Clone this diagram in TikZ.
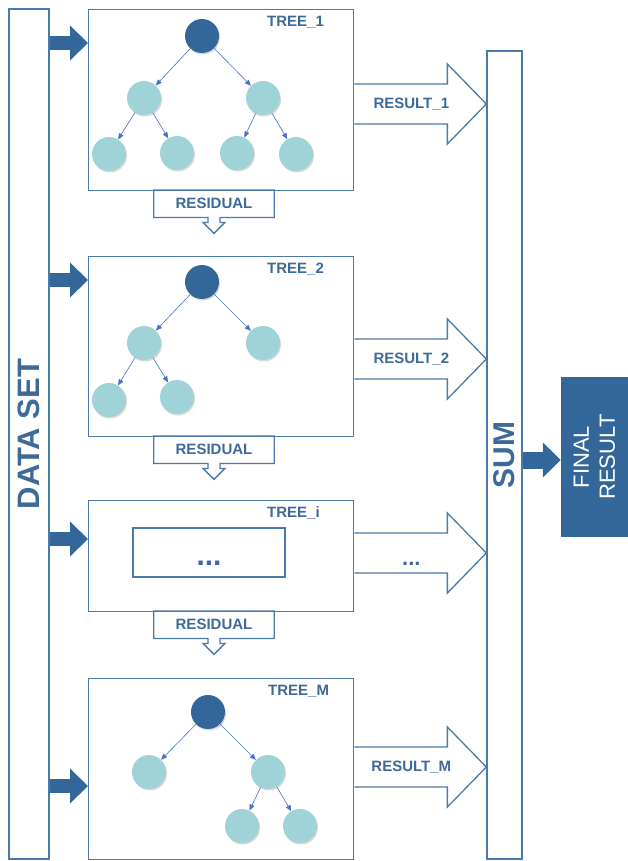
\documentclass[tikz,border=0pt]{standalone}
\usepackage{fontspec}
\setmainfont{Liberation Sans}
\usetikzlibrary{arrows.meta,calc,shadows}
\definecolor{gbdark}{HTML}{336699}
\definecolor{gbline}{HTML}{4A7AAB}
\definecolor{gbtext}{HTML}{3D6A99}
\definecolor{gbleaf}{HTML}{A0D3D7}
\definecolor{gbedge}{HTML}{4472C4}

\begin{document}
\begin{tikzpicture}[x=1pt,y=-1pt,
  treebox/.style={rectangle,draw=gbline,line width=1.3pt,anchor=north west,
    minimum width=265pt,inner sep=0pt},
  bar/.style={rectangle,draw=gbline,line width=1.3pt,inner sep=0pt},
  root/.style={circle,fill=gbdark,minimum size=34pt,inner sep=0pt,
    drop shadow={opacity=0.3,shadow xshift=1pt,shadow yshift=-1.5pt}},
  leaf/.style={root,fill=gbleaf},
  edge/.style={-{Triangle[length=6pt,width=5pt]},draw=gbedge,line width=0.6pt},
  fat/.style={-{Triangle[length=18pt,width=34pt]},draw=gbdark,line width=14pt},
  hollow/.style={draw=gbline,line width=1.3pt,line join=miter},
  lbl/.style={text=gbtext,font=\bfseries\fontsize{15}{18}\selectfont},
  resbox/.style={lbl,minimum width=120pt,minimum height=27pt,inner sep=0pt,anchor=north},
  treelbl/.style={lbl,anchor=west,inner sep=0pt},
  bigtext/.style={text=gbtext,rotate=90,font=\bfseries\fontsize{31}{36}\selectfont}]

  \useasboundingbox (0,0) rectangle (628,861);

  % side bars
  \node[bar,minimum width=40pt,minimum height=850pt] (data) at (29,434) {};
  \node[bigtext] (datalbl) at (data.center) {DATA SET};
  \node[bar,minimum width=35pt,minimum height=808pt] (sum) at (504.5,455) {};
  \node[bigtext,font=\bfseries\fontsize{30}{36}\selectfont] (sumlbl) at (sum.center) {SUM};
  \node[rectangle,fill=gbdark,minimum width=67pt,minimum height=160pt,inner sep=0pt] (fin) at (594.5,457) {};
  \node[text=white,rotate=90,align=center,font=\fontsize{22}{26}\selectfont] (finlbl) at (fin.center) {FINAL\\RESULT};

  % tree boxes
  \node[treebox,minimum height=181pt] (t1) at (88,9) {};
  \node[treebox,minimum height=180pt] (t2) at (88,256) {};
  \node[treebox,minimum height=111pt] (ti) at (88,500) {};
  \node[treebox,minimum height=181pt] (tm) at (88,678) {};
  \node[treelbl] (t1lbl) at ($(t1.north west)+(179,13)$) {TREE\_1};
  \node[treelbl] (t2lbl) at ($(t2.north west)+(179,13)$) {TREE\_2};
  \node[treelbl] (tilbl) at ($(ti.north west)+(179,13)$) {TREE\_i};
  \node[treelbl] (tmlbl) at ($(tm.north west)+(180,13)$) {TREE\_M};

  % tree 1
  \node[root] (a1) at (202,36) {};
  \node[leaf] (b1) at (144,98) {};
  \node[leaf] (c1) at (263,98) {};
  \node[leaf] (d1) at (109,154) {};
  \node[leaf] (e1) at (177,153) {};
  \node[leaf] (f1) at (237,153) {};
  \node[leaf] (g1) at (296,154) {};
  \draw[edge] (a1) -- (b1);
  \draw[edge] (a1) -- (c1);
  \draw[edge] (b1) -- (d1);
  \draw[edge] (b1) -- (e1);
  \draw[edge] (c1) -- (f1);
  \draw[edge] (c1) -- (g1);

  % tree 2
  \node[root] (a2) at (202,282) {};
  \node[leaf] (b2) at (144,343) {};
  \node[leaf] (c2) at (263,343) {};
  \node[leaf] (d2) at (109,400) {};
  \node[leaf] (e2) at (177,397) {};
  \draw[edge] (a2) -- (b2);
  \draw[edge] (a2) -- (c2);
  \draw[edge] (b2) -- (d2);
  \draw[edge] (b2) -- (e2);

  % tree i
  \node[bar,minimum width=152pt,minimum height=49pt] (inner) at (209,552.5) {};
  \node[text=gbtext,anchor=base,font=\bfseries\fontsize{30}{36}\selectfont] (innerdots) at (209,565) {...};

  % tree M
  \node[root] (am) at (208,712) {};
  \node[leaf] (bm) at (149,772) {};
  \node[leaf] (cm) at (268,772) {};
  \node[leaf] (dm) at (242,826) {};
  \node[leaf] (em) at (300,826) {};
  \draw[edge] (am) -- (bm);
  \draw[edge] (am) -- (cm);
  \draw[edge] (cm) -- (dm);
  \draw[edge] (cm) -- (em);

  % residuals
  \node[resbox] (res1) at (214,190) {RESIDUAL};
  \node[resbox] (res2) at (214,436) {RESIDUAL};
  \node[resbox] (res3) at (214,611) {RESIDUAL};
  \draw[hollow] (res1.south east) -- ($(res1.south)+(6,0)$) -- ++(0,5) -- ++(5,0) -- ($(res1.south)+(0,16)$)
    -- ++(-11,-11) -- ++(5,0) -- ++(0,-5) -- (res1.south west) |- (res1.north east) -- cycle;
  \draw[hollow] (res2.south east) -- ($(res2.south)+(6,0)$) -- ++(0,5) -- ++(5,0) -- ($(res2.south)+(0,16)$)
    -- ++(-11,-11) -- ++(5,0) -- ++(0,-5) -- (res2.south west) |- (res2.north east) -- cycle;
  \draw[hollow] (res3.south east) -- ($(res3.south)+(6,0)$) -- ++(0,5) -- ++(5,0) -- ($(res3.south)+(0,16)$)
    -- ++(-11,-11) -- ++(5,0) -- ++(0,-5) -- (res3.south west) |- (res3.north east) -- cycle;

  % data arrows
  \draw[fat] (data.east |- 0,43) -- (t1.west |- 0,43);
  \draw[fat] (data.east |- 0,280) -- (t2.west |- 0,280);
  \draw[fat] (data.east |- 0,539) -- (ti.west |- 0,539);
  \draw[fat] (data.east |- 0,786) -- (tm.west |- 0,786);
  \draw[fat,line width=17pt] (sum.east |- 0,460) -- (fin.west |- 0,460);

  % result arrows
  \coordinate (r1) at (t1.east |- 0,104);
  \coordinate (r2) at (t2.east |- 0,359);
  \coordinate (r3) at (ti.east |- 0,553);
  \coordinate (r4) at (tm.east |- 0,767);
  \draw[hollow] ($(r1)+(0,-20)$) -| ($(sum.west |- r1)+(-39,-40)$) -- (sum.west |- r1) -- ++(-39,40) |- ($(r1)+(0,20)$);
  \draw[hollow] ($(r2)+(0,-20)$) -| ($(sum.west |- r2)+(-39,-40)$) -- (sum.west |- r2) -- ++(-39,40) |- ($(r2)+(0,20)$);
  \draw[hollow] ($(r3)+(0,-20)$) -| ($(sum.west |- r3)+(-39,-40)$) -- (sum.west |- r3) -- ++(-39,40) |- ($(r3)+(0,20)$);
  \draw[hollow] ($(r4)+(0,-20)$) -| ($(sum.west |- r4)+(-39,-40)$) -- (sum.west |- r4) -- ++(-39,40) |- ($(r4)+(0,20)$);
  \node[lbl] (r1lbl) at ($(r1)+(57,0)$) {RESULT\_1};
  \node[lbl] (r2lbl) at ($(r2)+(57,0)$) {RESULT\_2};
  \node[lbl,anchor=base,font=\bfseries\fontsize{22}{26}\selectfont] (r3lbl) at ($(r3)+(57,12)$) {...};
  \node[lbl] (r4lbl) at ($(r4)+(57,0)$) {RESULT\_M};
\end{tikzpicture}
\end{document}
